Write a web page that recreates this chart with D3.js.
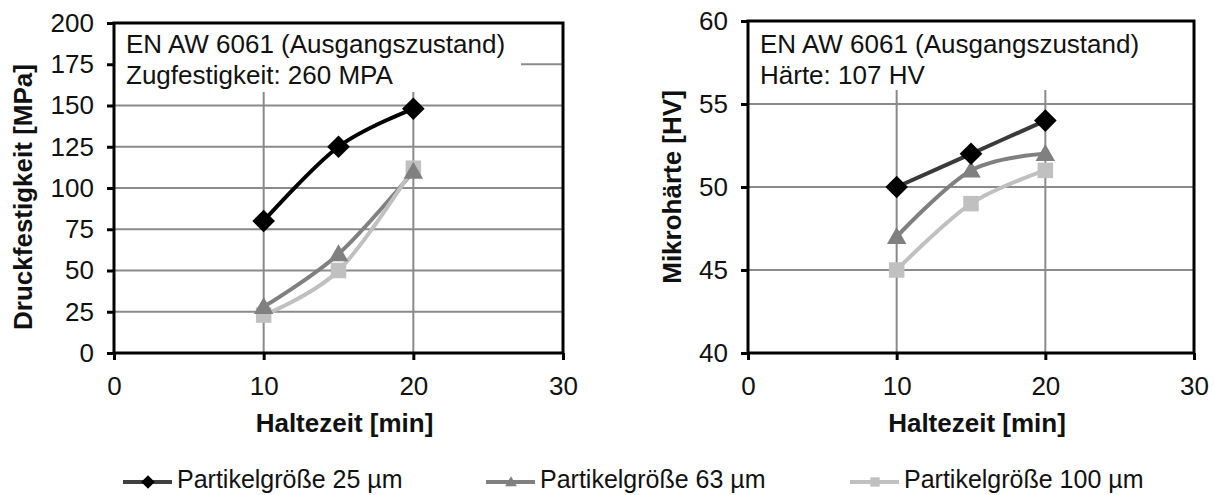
<!DOCTYPE html>
<html>
<head>
<meta charset="utf-8">
<script src="https://cdn.jsdelivr.net/npm/d3@7"></script>
<style>
	body { margin: 0; background: #fff; }
	svg text { font-family: "Liberation Sans", Arial, sans-serif; }
</style>
</head>
<body>
<div id="chart"></div>
<script>
// Data
const haltezeit = [10, 15, 20];
const seriesNames = ["Partikelgröße 25 µm", "Partikelgröße 63 µm", "Partikelgröße 100 µm"];

const druck25 = [80, 125, 148];
const druck63 = [28, 60, 110];
const druck100 = [23, 50, 112];

const haerte25 = [50, 52, 54];
const haerte63 = [47, 51, 52];
const haerte100 = [45, 49, 51];

const xTicks = [0, 10, 20, 30];
const druckTicks = [0, 25, 50, 75, 100, 125, 150, 175, 200];
const haerteTicks = [40, 45, 50, 55, 60];

const seriesColors = ["#000000", "#808080", "#c0c0c0"];
const seriesSymbols = ["diamond", "triangle", "square"];


class LineChart {

	constructor(svg, opts) {
		this.svg = svg;
		this.opts = opts;

		this.x = d3.scaleLinear()
			.domain([0, 30])
			.range([opts.left, opts.right]);
		this.y = d3.scaleLinear()
			.domain(opts.yDomain)
			.range([opts.bottom, opts.top]);

		this.g = svg.append("g");
	}

	draw() {
		this.drawGrid();
		this.drawInfoBox();
		this.drawSeries();
		this.drawFrame();
		this.drawAxes();
		this.drawAxisLabels();
	}

	drawGrid() {
		let o = this.opts;
		this.g.selectAll(".hgrid")
			.data(o.yTicks.slice(1, -1))
			.enter().append("line")
			.attr("x1", o.left).attr("x2", o.right)
			.attr("y1", d => this.y(d)).attr("y2", d => this.y(d))
			.attr("stroke", "#8a8a8a")
			.attr("stroke-width", 2);
		this.g.selectAll(".vgrid")
			.data(xTicks.slice(1, -1))
			.enter().append("line")
			.attr("x1", d => this.x(d)).attr("x2", d => this.x(d))
			.attr("y1", o.top).attr("y2", o.bottom)
			.attr("stroke", "#8a8a8a")
			.attr("stroke-width", 2);
	}

	drawInfoBox() {
		let o = this.opts;
		this.g.append("rect")
			.attr("x", o.left + 1)
			.attr("y", o.top + 1)
			.attr("width", o.boxWidth)
			.attr("height", 68)
			.attr("fill", "#fff");
		o.info.forEach((line, i) => {
			this.g.append("text")
				.attr("x", o.left + 12)
				.attr("y", 53 + i * 31)
				.style("font-size", "26px")
				.style("fill", "#111")
				.text(line);
		});
	}

	drawSeries() {
		let o = this.opts;
		let line = d3.line()
			.x(d => this.x(d[0]))
			.y(d => this.y(d[1]))
			.curve(d3.curveCardinal.tension(0));

		o.series.forEach((vals, i) => {
			let datum = haltezeit.map((t, j) => [t, vals[j]]);
			let color = i == 0 ? o.firstColor : seriesColors[i];
			this.g.append("path")
				.datum(datum)
				.attr("fill", "none")
				.attr("stroke", color)
				.attr("stroke-width", 4)
				.attr("d", line);
		});

		// markers on top, last series first so darker ones overlap
		for (let i = o.series.length - 1; i >= 0; i--) {
			let vals = o.series[i];
			haltezeit.forEach((t, j) => {
				drawMarker(this.g, seriesSymbols[i], this.x(t), this.y(vals[j]), seriesColors[i], 1);
			});
		}
	}

	drawFrame() {
		let o = this.opts;
		this.g.append("rect")
			.attr("x", o.left)
			.attr("y", o.top)
			.attr("width", o.right - o.left)
			.attr("height", o.bottom - o.top)
			.attr("fill", "none")
			.attr("stroke", "#000")
			.attr("stroke-width", 3);
	}

	drawAxes() {
		let o = this.opts;
		let yAxis = d3.axisLeft(this.y)
			.tickValues(o.yTicks)
			.tickSize(7)
			.tickPadding(13);
		let xAxis = d3.axisBottom(this.x)
			.tickValues(xTicks)
			.tickSize(7)
			.tickPadding(17);

		let gy = this.g.append("g")
			.attr("transform", "translate(" + o.left + ",0)")
			.call(yAxis);
		let gx = this.g.append("g")
			.attr("transform", "translate(0," + o.bottom + ")")
			.call(xAxis);

		for (let ax of [gx, gy]) {
			ax.select(".domain").remove();
			ax.selectAll("line").attr("stroke", "#000").attr("stroke-width", 3);
			ax.selectAll("text")
				.style("font-size", "26px")
				.style("font-family", "'Liberation Sans', Arial, sans-serif")
				.attr("fill", "#111");
		}
	}

	drawAxisLabels() {
		let o = this.opts;
		// x-label
		this.g.append("text")
			.attr("x", (o.left + o.right) / 2 + 6)
			.attr("y", 432)
			.style("text-anchor", "middle")
			.style("font-weight", 700)
			.style("font-size", "26px")
			.style("fill", "#111")
			.text("Haltezeit [min]");

		// y-label
		this.g.append("text")
			.attr("transform", "rotate(-90)")
			.attr("y", o.yLabelX)
			.attr("x", -o.yLabelY)
			.style("text-anchor", "middle")
			.style("font-weight", 700)
			.style("font-size", "26px")
			.style("fill", "#111")
			.text(o.ylabel);
	}
}


function drawMarker(g, kind, cx, cy, color, scale) {
	let path;
	if (kind == "diamond") {
		path = d3.symbol().type(d3.symbolSquare).size(256 * scale * scale)();
		g.append("path")
			.attr("d", path)
			.attr("transform", "translate(" + cx + "," + cy + ") rotate(45)")
			.attr("fill", color);
		return;
	}
	if (kind == "triangle") {
		path = d3.symbol().type(d3.symbolTriangle).size(165 * scale * scale)();
		g.append("path")
			.attr("d", path)
			.attr("transform", "translate(" + cx + "," + (cy + 1.5 * scale) + ")")
			.attr("fill", color);
		return;
	}
	path = d3.symbol().type(d3.symbolSquare).size(240 * scale * scale)();
	g.append("path")
		.attr("d", path)
		.attr("transform", "translate(" + cx + "," + cy + ")")
		.attr("fill", color);
}


const svg = d3.select("#chart")
	.append("svg")
	.attr("width", 1214)
	.attr("height", 495);

svg.append("rect")
	.attr("width", 1214).attr("height", 495)
	.attr("fill", "#fff");

new LineChart(svg, {
	left: 114, right: 563, top: 23, bottom: 353,
	yDomain: [0, 200],
	yTicks: druckTicks,
	series: [druck25, druck63, druck100],
	firstColor: "#000000",
	info: ["EN AW 6061 (Ausgangszustand)", "Zugfestigkeit: 260 MPA"],
	boxWidth: 406,
	ylabel: "Druckfestigkeit [MPa]",
	yLabelX: 32, yLabelY: 197
}).draw();

new LineChart(svg, {
	left: 748, right: 1194, top: 21, bottom: 353,
	yDomain: [40, 60],
	yTicks: haerteTicks,
	series: [haerte25, haerte63, haerte100],
	firstColor: "#3a3a3a",
	info: ["EN AW 6061 (Ausgangszustand)", "Härte: 107 HV"],
	boxWidth: 406,
	ylabel: "Mikrohärte [HV]",
	yLabelX: 681, yLabelY: 187
}).draw();


// Legend
const legendX = [123, 486, 850];
const legendLineColors = ["#404040", "#808080", "#c0c0c0"];
const legend = svg.append("g");
seriesNames.forEach((name, i) => {
	let x0 = legendX[i];
	legend.append("line")
		.attr("x1", x0).attr("x2", x0 + 49)
		.attr("y1", 482).attr("y2", 482)
		.attr("stroke", legendLineColors[i])
		.attr("stroke-width", 4);
	drawMarker(legend, seriesSymbols[i], x0 + 25, 482, seriesColors[i], 0.6);
	legend.append("text")
		.attr("x", x0 + 54)
		.attr("y", 488)
		.style("font-size", "25px")
		.style("fill", "#111")
		.text(name);
});
</script>
</body>
</html>
